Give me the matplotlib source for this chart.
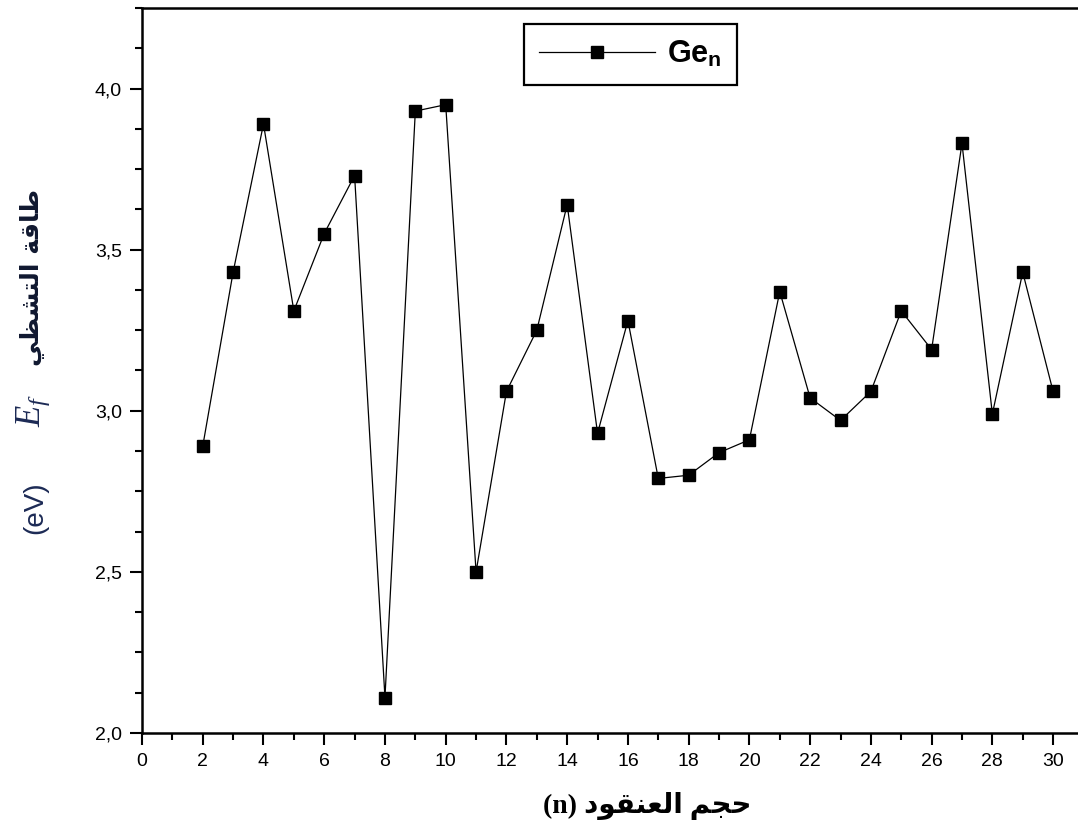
import matplotlib
matplotlib.use('Agg')
import matplotlib.pyplot as plt
from matplotlib.ticker import MultipleLocator, FuncFormatter

# cluster size n and fragmentation energy (eV)
n_size = [2, 3, 4, 5, 6, 7, 8, 9, 10, 11, 12, 13, 14, 15, 16,
          17, 18, 19, 20, 21, 22, 23, 24, 25, 26, 27, 28, 29, 30]
e_frag = [2.89, 3.43, 3.89, 3.31, 3.55, 3.73, 2.11, 3.93, 3.95, 2.50,
          3.06, 3.25, 3.64, 2.93, 3.28, 2.79, 2.80, 2.87, 2.91, 3.37,
          3.04, 2.97, 3.06, 3.31, 3.19, 3.83, 2.99, 3.43, 3.06]
series_label = r'$\mathbf{Ge}_{\mathbf{n}}$'

# Arabic written in presentation forms, visual (left-to-right) order
x_label_ar = '\uFEE2\uFEA0\uFEA3'                                  # حجم
x_label_ar2 = '\uFEA9\uFEEE\uFED8\uFEE8\uFECC\uFEDF\uFE8D'          # العنقود
y_label_ar = ('\uFEF2\uFEC8\uFEB8\uFE98\uFEDF\uFE8D' + ' '           # التشظي
              + '\uFE94\uFED7\uFE8E\uFEC3')                          # طاقة

plt.rcParams['mathtext.fontset'] = 'custom'
plt.rcParams['mathtext.rm'] = 'Liberation Sans'
plt.rcParams['mathtext.it'] = 'Liberation Serif:italic'
plt.rcParams['mathtext.bf'] = 'Liberation Sans:bold'
plt.rcParams['font.family'] = ['Liberation Sans', 'DejaVu Sans']

fig = plt.figure(figsize=(10.78, 8.30), dpi=100)
ax = fig.add_axes([142 / 1078, 1 - 733 / 830, 936 / 1078, 725 / 830])

ax.plot(n_size, e_frag, '-s', color='black', lw=0.9, ms=8,
        label=series_label)

ax.set_xlim(0, 30.82)
ax.set_ylim(2.0, 4.25)
ax.xaxis.set_major_locator(MultipleLocator(2))
ax.xaxis.set_minor_locator(MultipleLocator(1))
ax.yaxis.set_major_locator(MultipleLocator(0.5))
ax.yaxis.set_minor_locator(MultipleLocator(0.125))
ax.yaxis.set_major_formatter(FuncFormatter(lambda v, p: f'{v:.1f}'.replace('.', ',')))

ax.tick_params(which='both', direction='out', width=1.5, labelsize=14,
               top=False, right=False)
ax.tick_params(which='major', length=8.5, pad=6)
ax.tick_params(which='minor', length=5)
for s in ['left', 'bottom', 'top']:
    ax.spines[s].set_linewidth(1.8)
ax.spines['right'].set_visible(False)

leg = ax.legend(loc='upper center', bbox_to_anchor=(0.522, 0.999),
                fontsize=22, fancybox=False, edgecolor='black',
                framealpha=1, handlelength=3.8, borderpad=0.5,
                handletextpad=0.4)
leg.get_frame().set_linewidth(1.6)

# x label: "(n) حجم العنقود"
fig.text(0.600, 0.029, '(n) ' + x_label_ar2 + ' ' + x_label_ar,
         ha='center', va='center', fontsize=20, fontweight='bold',
         family=['Liberation Serif', 'DejaVu Sans'])

# y label pieces, rotated
navy = '#1c2a55'
fig.text(0.033, 1 - 508 / 830, '(eV)', rotation=90, ha='center',
         va='center', fontsize=20, color=navy, family=['Liberation Sans'])
fig.text(0.031, 1 - 410 / 830, r'$E_f$', rotation=90, ha='center',
         va='center', fontsize=25, color=navy)
fig.text(0.030, 1 - 278 / 830, y_label_ar, rotation=90, ha='center',
         va='center', fontsize=18, fontweight='bold', color='#101830',
         family=['DejaVu Sans'])

fig.savefig('out.png', dpi=100)
plt.close(fig)
